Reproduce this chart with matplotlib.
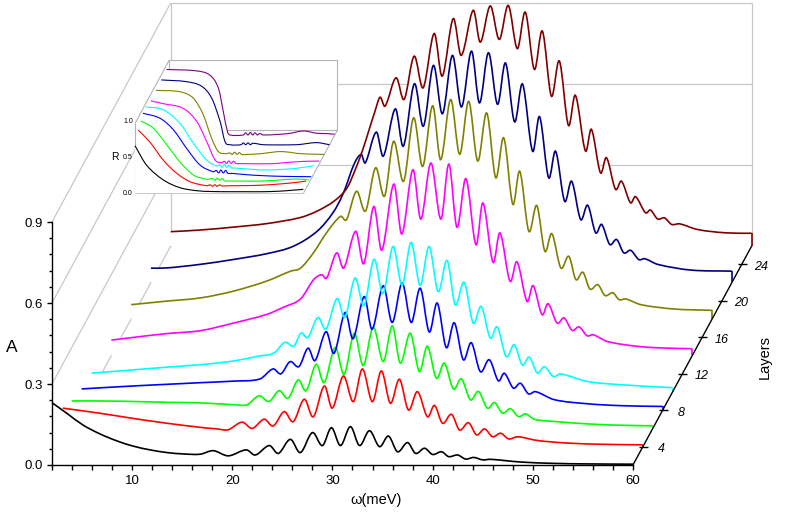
import numpy as np
import matplotlib
matplotlib.use('Agg')
import matplotlib.pyplot as plt
from matplotlib.path import Path
from matplotlib.patches import PathPatch
from matplotlib.ticker import MultipleLocator, FixedLocator, FormatStrFormatter

plt.rcParams['font.family'] = ['Liberation Sans', 'DejaVu Sans']

# ---- data ----------------------------------------------------------------
layers = [2, 4, 6, 8, 10, 14, 18, 22, 26]
colors = ['#000000', '#FF0000', '#00FF00', '#0000FF', '#00FFFF',
          '#FF00FF', '#808000', '#000080', '#800000']
inset_colors = colors[:-1] + ['#800080']

# absorption A(omega), one pair of lists per layer
w_L2 = [2.0, 3.5, 5.1, 6.8, 8.5, 10.1, 11.8, 13.5, 15.1, 16.8, 18.1, 19.6, 21.4, 22.3, 23.7,
        24.6, 25.8, 26.8, 28.0, 29.0, 29.9, 30.8, 31.8, 32.7, 33.7, 34.7, 35.6, 36.5, 37.5,
        38.3, 39.2, 40.0, 40.9, 41.6, 42.5, 43.3, 44.1, 45.0, 45.8, 48.8, 52.1, 55.5, 60.0]
a_L2 = [0.231, 0.191, 0.148, 0.115, 0.089, 0.070, 0.056, 0.046, 0.041, 0.040, 0.053, 0.034,
        0.056, 0.037, 0.072, 0.043, 0.095, 0.046, 0.120, 0.072, 0.138, 0.072, 0.142, 0.072,
        0.127, 0.068, 0.107, 0.049, 0.083, 0.043, 0.062, 0.039, 0.049, 0.031, 0.037, 0.022,
        0.028, 0.019, 0.021, 0.011, 0.006, 0.004, 0.003]

w_L4 = [2.1, 5.8, 9.1, 12.5, 15.8, 17.5, 18.6, 20.0, 21.0, 22.2, 23.1, 24.2, 25.1, 26.2,
        27.1, 28.2, 29.0, 30.1, 31.1, 32.0, 33.0, 33.9, 34.8, 35.7, 36.6, 37.5, 38.5, 39.2,
        40.0, 40.9, 41.7, 42.6, 43.4, 44.2, 45.0, 45.8, 46.6, 47.5, 49.5, 52.8, 56.1, 60.0]
a_L4 = [0.143, 0.124, 0.105, 0.087, 0.072, 0.066, 0.063, 0.091, 0.068, 0.102, 0.077, 0.130,
        0.093, 0.176, 0.111, 0.225, 0.143, 0.262, 0.167, 0.288, 0.167, 0.281, 0.161, 0.250,
        0.136, 0.204, 0.111, 0.153, 0.087, 0.120, 0.062, 0.089, 0.044, 0.066, 0.037, 0.050,
        0.029, 0.037, 0.023, 0.013, 0.009, 0.007]

w_L6 = [2.0, 4.8, 8.2, 11.5, 14.8, 18.2, 19.5, 20.7, 21.7, 22.7, 23.6, 24.6, 25.4, 26.4,
        27.2, 28.3, 29.2, 30.2, 31.1, 32.1, 33.1, 34.0, 34.8, 35.8, 36.7, 37.5, 38.4, 39.2,
        40.1, 40.9, 41.8, 42.6, 43.5, 44.2, 45.0, 45.8, 46.6, 47.3, 48.2, 50.2, 53.5, 56.8, 60.0]
a_L6 = [0.102, 0.102, 0.100, 0.097, 0.095, 0.088, 0.088, 0.121, 0.100, 0.140, 0.112, 0.180,
        0.140, 0.238, 0.170, 0.300, 0.201, 0.353, 0.233, 0.375, 0.248, 0.380, 0.242, 0.353,
        0.211, 0.305, 0.186, 0.242, 0.146, 0.184, 0.106, 0.137, 0.075, 0.096, 0.057, 0.073,
        0.044, 0.054, 0.034, 0.026, 0.017, 0.012, 0.010]

w_L8 = [2.0, 7.2, 10.5, 13.8, 17.2, 19.8, 21.1, 21.9, 22.8, 23.7, 24.6, 25.3, 26.4, 27.2,
        28.3, 29.1, 30.2, 31.0, 32.1, 33.0, 34.0, 34.9, 35.8, 36.7, 37.5, 38.4, 39.2, 40.1,
        40.9, 41.8, 42.7, 43.6, 44.2, 45.1, 45.8, 46.6, 47.3, 49.2, 52.5, 55.8, 60.0]
a_L8 = [0.079, 0.090, 0.096, 0.102, 0.108, 0.116, 0.153, 0.135, 0.180, 0.162, 0.230, 0.184,
        0.291, 0.211, 0.362, 0.265, 0.421, 0.300, 0.461, 0.325, 0.471, 0.325, 0.452, 0.290,
        0.397, 0.232, 0.324, 0.187, 0.250, 0.143, 0.187, 0.109, 0.137, 0.082, 0.100, 0.061,
        0.069, 0.039, 0.024, 0.017, 0.014]

w_L10 = [2.0, 6.2, 9.5, 12.8, 16.2, 18.5, 20.2, 21.3, 22.2, 22.9, 23.6, 24.6, 25.4, 26.5,
         27.3, 28.3, 29.2, 30.2, 31.1, 32.1, 33.0, 33.9, 34.8, 35.7, 36.6, 37.5, 38.3, 39.2,
         40.1, 40.9, 41.8, 42.5, 43.4, 44.2, 45.0, 45.7, 46.5, 47.2, 48.1, 48.8, 51.5, 54.8, 60.0]
a_L10 = [0.070, 0.082, 0.092, 0.101, 0.115, 0.132, 0.144, 0.184, 0.170, 0.218, 0.202, 0.276,
         0.233, 0.346, 0.277, 0.422, 0.320, 0.492, 0.365, 0.539, 0.395, 0.554, 0.395, 0.539,
         0.372, 0.487, 0.323, 0.406, 0.255, 0.317, 0.200, 0.241, 0.131, 0.175, 0.100, 0.129,
         0.070, 0.094, 0.057, 0.067, 0.039, 0.027, 0.016]

w_L14 = [2.0, 4.2, 7.5, 10.9, 14.2, 17.5, 19.2, 20.9, 22.2, 23.0, 23.5, 24.5, 25.2, 26.4,
         27.2, 28.2, 29.0, 30.2, 31.0, 32.1, 32.9, 33.9, 34.9, 35.7, 36.5, 37.4, 38.4, 39.1,
         40.1, 40.8, 41.8, 42.5, 43.5, 44.1, 45.0, 45.6, 46.5, 47.2, 48.0, 48.7, 49.5, 50.1,
         51.5, 54.5, 56.9, 60.0]
a_L14 = [0.057, 0.067, 0.081, 0.092, 0.120, 0.152, 0.179, 0.210, 0.281, 0.299, 0.287, 0.380,
         0.324, 0.460, 0.340, 0.552, 0.390, 0.635, 0.450, 0.688, 0.505, 0.713, 0.505, 0.709,
         0.475, 0.655, 0.410, 0.565, 0.345, 0.454, 0.275, 0.347, 0.200, 0.259, 0.151, 0.192,
         0.120, 0.139, 0.093, 0.106, 0.073, 0.077, 0.052, 0.034, 0.028, 0.025]

w_L18 = [2.0, 5.5, 8.9, 12.2, 15.5, 17.9, 18.9, 20.2, 21.5, 22.9, 23.5, 24.5, 25.4, 26.4,
         27.3, 28.2, 29.2, 30.2, 31.1, 32.1, 32.9, 33.9, 34.8, 35.7, 36.6, 37.5, 38.4, 39.2,
         40.1, 40.8, 41.7, 42.5, 43.3, 44.0, 44.9, 45.7, 46.4, 47.1, 47.8, 48.6, 49.3, 50.1,
         50.7, 51.4, 52.9, 56.2, 60.0]
a_L18 = [0.053, 0.066, 0.078, 0.103, 0.140, 0.177, 0.188, 0.245, 0.319, 0.380, 0.368, 0.473,
         0.400, 0.560, 0.455, 0.658, 0.510, 0.745, 0.565, 0.790, 0.590, 0.813, 0.610, 0.806,
         0.585, 0.763, 0.523, 0.671, 0.425, 0.547, 0.325, 0.420, 0.251, 0.316, 0.189, 0.232,
         0.146, 0.173, 0.111, 0.127, 0.087, 0.097, 0.072, 0.074, 0.053, 0.037, 0.032]

w_L22 = [2.0, 3.6, 6.9, 10.2, 13.6, 16.2, 18.6, 20.2, 21.2, 22.3, 23.0, 23.4, 24.5, 25.2,
         26.4, 27.2, 28.3, 29.2, 30.2, 31.1, 32.1, 33.0, 34.0, 34.8, 35.7, 36.6, 37.4, 38.3,
         39.1, 40.1, 40.8, 41.7, 42.4, 43.3, 44.0, 44.9, 45.6, 46.4, 47.0, 47.8, 48.5, 49.2,
         49.9, 50.7, 51.3, 52.6, 55.9, 60.0]
a_L22 = [0.053, 0.054, 0.067, 0.085, 0.107, 0.134, 0.190, 0.260, 0.330, 0.440, 0.474, 0.443,
         0.557, 0.468, 0.643, 0.505, 0.736, 0.579, 0.804, 0.625, 0.841, 0.650, 0.857, 0.665,
         0.851, 0.660, 0.813, 0.595, 0.735, 0.486, 0.614, 0.388, 0.486, 0.301, 0.375, 0.233,
         0.286, 0.184, 0.215, 0.141, 0.159, 0.110, 0.119, 0.085, 0.088, 0.067, 0.046, 0.042]

w_L26 = [2.0, 4.9, 8.3, 11.6, 14.9, 16.6, 18.3, 19.6, 20.5, 21.2, 21.8, 22.4, 22.9, 23.4,
         24.5, 25.3, 26.3, 27.2, 28.3, 29.1, 30.2, 31.0, 32.2, 32.9, 33.9, 34.8, 35.7, 36.6,
         37.4, 38.3, 39.1, 40.0, 40.8, 41.7, 42.4, 43.4, 44.0, 44.9, 45.5, 46.4, 47.0, 47.9,
         48.4, 49.4, 49.9, 50.6, 51.3, 52.0, 52.8, 54.6, 57.3, 60.0]
a_L26 = [0.053, 0.059, 0.070, 0.083, 0.105, 0.129, 0.166, 0.215, 0.290, 0.360, 0.430, 0.500,
         0.551, 0.518, 0.623, 0.543, 0.703, 0.586, 0.787, 0.629, 0.842, 0.706, 0.873, 0.755,
         0.889, 0.765, 0.891, 0.731, 0.866, 0.654, 0.796, 0.555, 0.685, 0.447, 0.558, 0.352,
         0.432, 0.271, 0.327, 0.210, 0.240, 0.160, 0.183, 0.123, 0.133, 0.100, 0.104, 0.080,
         0.082, 0.061, 0.049, 0.047]

main_w = [w_L2, w_L4, w_L6, w_L8, w_L10, w_L14, w_L18, w_L22, w_L26]
main_a = [a_L2, a_L4, a_L6, a_L8, a_L10, a_L14, a_L18, a_L22, a_L26]

# inset: reflectance R(omega) per layer
rw_L2 = [2.0, 6.0, 11.8, 17.5, 23.3, 28.0, 34.8, 40.0, 46.3, 52.0, 56.0, 60.0]
r_L2 = [0.66, 0.39, 0.185, 0.078, 0.036, 0.025, 0.022, 0.022, 0.022, 0.030, 0.042, 0.055]
rw_L4 = [2.2, 6.3, 10.9, 15.5, 20.1, 25.8, 27.0, 27.8, 28.6, 29.4, 30.2, 31.0, 33.9, 40.0,
         45.3, 51.0, 56.9, 60.0]
r_L4 = [0.81, 0.64, 0.39, 0.21, 0.093, 0.038, 0.050, 0.030, 0.052, 0.030, 0.050, 0.035,
        0.038, 0.040, 0.047, 0.062, 0.085, 0.103]
rw_L6 = [2.2, 6.5, 11.1, 15.7, 20.3, 24.9, 27.0, 27.8, 28.6, 29.4, 30.2, 31.0, 33.0, 38.0,
         44.4, 50.0, 56.0, 60.0]
r_L6 = [0.87, 0.77, 0.54, 0.30, 0.12, 0.06, 0.07, 0.045, 0.075, 0.045, 0.07, 0.04, 0.036,
        0.034, 0.036, 0.05, 0.064, 0.05]
rw_L8 = [2.0, 7.9, 12.5, 17.1, 21.7, 26.3, 27.3, 28.1, 28.9, 29.7, 30.5, 31.3, 32.5, 38.0,
         43.5, 50.0, 60.0]
r_L8 = [0.91, 0.84, 0.68, 0.42, 0.19, 0.097, 0.115, 0.08, 0.12, 0.08, 0.115, 0.075, 0.075,
        0.055, 0.042, 0.033, 0.028]
rw_L10 = [2.0, 8.1, 13.9, 18.5, 23.1, 26.6, 27.6, 28.4, 29.2, 30.0, 30.8, 31.6, 33.0, 38.0,
          42.6, 48.0, 54.1, 60.0]
r_L10 = [0.93, 0.89, 0.70, 0.425, 0.19, 0.11, 0.125, 0.09, 0.13, 0.09, 0.12, 0.085, 0.08,
         0.065, 0.054, 0.06, 0.078, 0.114]
rw_L14 = [2.0, 6.3, 13.2, 17.9, 21.3, 24.2, 26.5, 27.3, 28.1, 28.9, 29.7, 30.5, 31.3, 33.0,
          43.0, 48.0, 52.3, 56.0, 60.0]
r_L14 = [0.88, 0.84, 0.775, 0.59, 0.31, 0.057, 0.02, 0.04, 0.01, 0.045, 0.01, 0.04, 0.01,
         0.008, 0.005, 0.02, 0.033, 0.04, 0.043]
rw_L18 = [2.0, 10.3, 14.9, 18.3, 21.2, 23.5, 26.0, 27.5, 28.3, 29.1, 29.9, 30.7, 31.5, 33.3,
          38.0, 42.0, 44.8, 48.0, 50.5, 55.0, 60.0]
r_L18 = [0.89, 0.87, 0.78, 0.55, 0.22, 0.04, 0.01, 0.02, 0.0, 0.03, 0.0, 0.025, 0.0, 0.0,
         0.01, 0.03, 0.04, 0.03, 0.015, 0.005, 0.0]
rw_L22 = [2.0, 10.8, 16.0, 19.4, 22.3, 24.0, 25.7, 29.5, 30.3, 31.1, 31.9, 32.7, 33.5, 37.2,
          48.7, 52.0, 55.6, 58.0, 60.0]
r_L22 = [0.90, 0.875, 0.81, 0.645, 0.32, 0.04, 0.0, 0.0, 0.025, 0.0, 0.025, 0.0, 0.02, 0.0,
         0.0, 0.015, 0.03, 0.015, 0.0]
rw_L26 = [2.0, 12.4, 17.0, 19.9, 21.6, 23.0, 23.9, 28.5, 29.3, 30.1, 30.9, 31.7, 32.5, 33.3,
          34.1, 35.4, 44.0, 49.2, 53.8, 57.0, 60.0]
r_L26 = [0.91, 0.89, 0.83, 0.65, 0.32, 0.046, 0.0, 0.0, 0.03, 0.0, 0.035, 0.0, 0.03, 0.0,
         0.02, 0.0, 0.02, 0.056, 0.024, 0.02, 0.01]

inset_w = [rw_L2, rw_L4, rw_L6, rw_L8, rw_L10, rw_L14, rw_L18, rw_L22, rw_L26]
inset_r = [r_L2, r_L4, r_L6, r_L8, r_L10, r_L14, r_L18, r_L22, r_L26]

# ---- oblique projection: each layer is shifted up and to the right ---------
W0, W1 = 2.0, 60.0
L0 = 2


def proj(w, a, layer, dw, da):
    w = np.asarray(w, float)
    a = np.asarray(a, float)
    layer = np.asarray(layer, float)
    return w + dw * (layer - L0), a + da * (layer - L0)


def line3d(axis, w, a, layer, dw, da, **kw):
    x, y = proj(w, a, layer, dw, da)
    axis.plot(x, y, clip_on=False, solid_capstyle='butt', **kw)


def smooth_path(x, y, base=None):
    # read points joined by cubic Hermite segments (like Origin's spline connect)
    n = len(x)
    m = np.empty(n)
    m[1:-1] = (y[2:] - y[:-2]) / (x[2:] - x[:-2])
    m[0] = (y[1] - y[0]) / (x[1] - x[0])
    m[-1] = (y[-1] - y[-2]) / (x[-1] - x[-2])
    verts = [(x[0], y[0])]
    codes = [Path.MOVETO]
    for i in range(n - 1):
        h = x[i + 1] - x[i]
        verts += [(x[i] + h / 3, y[i] + m[i] * h / 3),
                  (x[i + 1] - h / 3, y[i + 1] - m[i + 1] * h / 3),
                  (x[i + 1], y[i + 1])]
        codes += [Path.CURVE4] * 3
    if base is not None:
        verts += [(x[-1], base), (x[0], base), (x[0], y[0])]
        codes += [Path.LINETO, Path.LINETO, Path.CLOSEPOLY]
    return Path(verts, codes)


def curve3d(axis, w, a, layer, dw, da, color, lw):
    x, y = proj(w, a, layer, dw, da)
    _, base = proj(0, 0, layer, dw, da)
    axis.add_patch(PathPatch(smooth_path(x, y, float(base)), facecolor='white',
                             edgecolor='none', zorder=2, clip_on=False))
    return x, y


fig = plt.figure(figsize=(7.85, 5.22), dpi=100)

# ---- main waterfall -------------------------------------------------------
L1 = 26
DW, DA = 0.494, 0.0338
ax = fig.add_axes([0.0662, 0.1092, 0.7401, 0.4655])
ax.set_xlim(W0, W1)
ax.set_ylim(0, 0.9)
ax.patch.set_visible(False)
for s in ['top', 'right']:
    ax.spines[s].set_visible(False)
for s in ['left', 'bottom']:
    ax.spines[s].set_linewidth(1.0)
    ax.spines[s].set_zorder(5)
ax.xaxis.set_major_locator(FixedLocator([10, 20, 30, 40, 50, 60]))
ax.xaxis.set_minor_locator(MultipleLocator(2))
ax.yaxis.set_major_locator(MultipleLocator(0.3))
ax.yaxis.set_minor_locator(MultipleLocator(0.06))
ax.yaxis.set_major_formatter(FormatStrFormatter('%.1f'))
ax.tick_params(axis='x', which='both', direction='out', length=3.5, width=1.0,
               labelsize=9.5, pad=4)
ax.tick_params(axis='y', which='major', direction='out', length=3.5, width=1.0,
               labelsize=9.5, pad=3)
ax.tick_params(axis='y', which='minor', direction='out', length=2.2, width=1.0)

grid_kw = dict(color='#C8C8C8', lw=0.9, zorder=1)
for lev in [0.3, 0.6, 0.9]:
    line3d(ax, [W0, W0], [lev, lev], [L0, L1], DW, DA, **grid_kw)   # left wall
    line3d(ax, [W0, W1], [lev, lev], [L1, L1], DW, DA, **grid_kw)   # back wall
line3d(ax, [W0, W0], [0, 0], [L0, L1], DW, DA, **grid_kw)
line3d(ax, [W0, W0], [0, 0.9], [L1, L1], DW, DA, **grid_kw)
line3d(ax, [W1, W1], [0, 0.9], [L1, L1], DW, DA, **grid_kw)

for L, w, a, c in zip(layers, main_w, main_a, colors):
    x, y = curve3d(ax, w, a, L, DW, DA, c, 1.2)
    ax.add_patch(PathPatch(smooth_path(x, y), facecolor='none', edgecolor=c, lw=1.2,
                           zorder=3, clip_on=False, joinstyle='round'))
    line3d(ax, [w[-1], w[-1]], [a[-1], 0], [L, L], DW, DA, color=c, lw=1.2, zorder=3)

# layers axis along the right floor edge
line3d(ax, [W1, W1], [0, 0], [L0, L1], DW, DA, color='black', lw=1.0, zorder=4)
for L in [4, 8, 12, 16, 20, 24]:
    line3d(ax, [W1 - 0.4, W1 + 0.5], [0, 0], [L, L], DW, DA, color='black', lw=1.0, zorder=4)
    tx, ty = proj(W1 + 1.9, -0.009, L, DW, DA)
    ax.text(tx, ty, str(L), fontsize=9, style='italic', ha='center', va='center')

fig.text(11.7 / 785, 1 - 348 / 522, 'A', fontsize=12.5, ha='center', va='center')
fig.text(376 / 785, 1 - 500 / 522, 'ω(meV)', fontsize=10.5, ha='center', va='center')
fig.text(765 / 785, 1 - 357 / 522, 'Layers', fontsize=10.5, rotation=90,
         ha='center', va='center')

# ---- inset (reflectance) --------------------------------------------------
IL1 = 28
IDW, IDR = 0.452, 0.03375
RTOP = 0.97
axi = fig.add_axes([0.1720, 0.6297, 0.2144, 0.1379])
axi.set_xlim(W0, W1)
axi.set_ylim(0, 1)
axi.axis('off')

bx, by = proj([W0, W1, W1, W1, W0, W0], [0, 0, 0, RTOP, RTOP, RTOP],
              [L0, L0, IL1, IL1, IL1, L0], IDW, IDR)
axi.fill(bx, by, color='white', lw=0, zorder=0, clip_on=False)

ig = dict(color='#B4B4B4', lw=0.8, zorder=1)
line3d(axi, [W0, W0], [0, RTOP], [L0, L0], IDW, IDR, **ig)
line3d(axi, [W0, W1], [0, 0], [L0, L0], IDW, IDR, **ig)
line3d(axi, [W1, W1], [0, 0], [L0, IL1], IDW, IDR, **ig)
line3d(axi, [W0, W0], [RTOP, RTOP], [L0, IL1], IDW, IDR, **ig)
line3d(axi, [W0, W1, W1, W0, W0], [RTOP, RTOP, 0, 0, RTOP], [IL1] * 5, IDW, IDR, **ig)

for L, w, r, c in zip(layers, inset_w, inset_r, inset_colors):
    x, y = curve3d(axi, w, r, L, IDW, IDR, c, 0.8)
    axi.add_patch(PathPatch(smooth_path(x, y), facecolor='none', edgecolor=c, lw=0.8,
                            zorder=3, clip_on=False, joinstyle='round'))

for rv in [0.0, 0.5, 1.0]:
    axi.text(W0 - 0.7, rv, '%.1f' % rv, fontsize=5, ha='right', va='center')
axi.text(-4.9, 0.5, 'R', fontsize=7.5, ha='center', va='center')

fig.savefig('out.png', dpi=100)
